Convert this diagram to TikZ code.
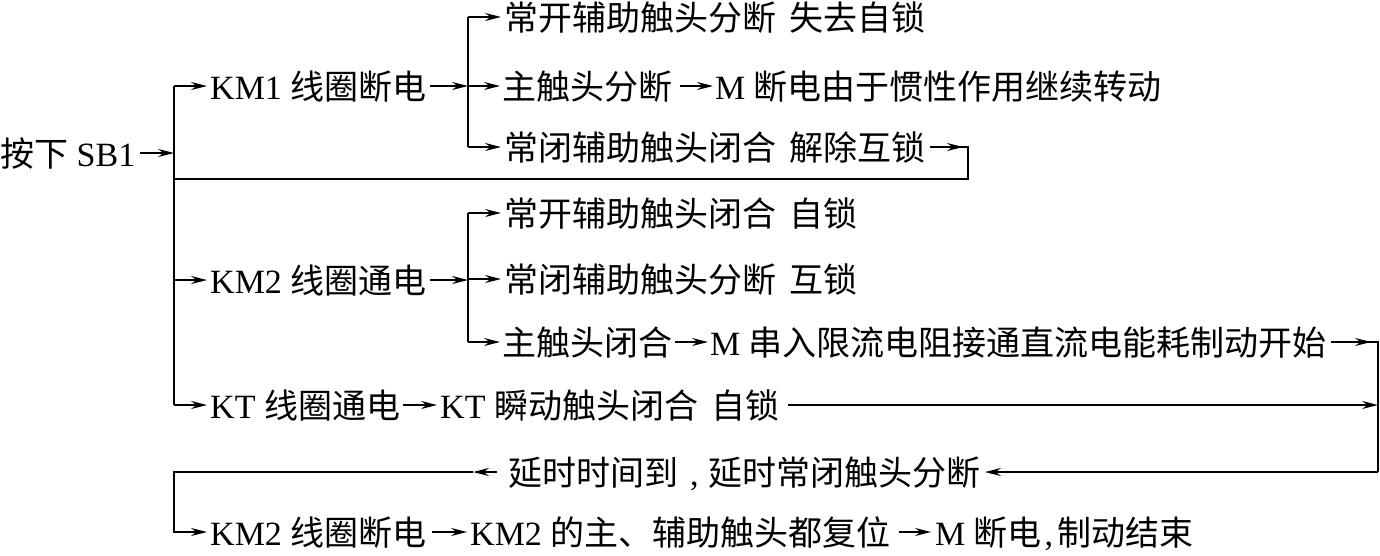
\documentclass[tikz,border=0pt]{standalone}
\usepackage{fontspec}
\setmainfont{Liberation Serif}
\newfontfamily\cjk{Noto Sans CJK SC}
\newcommand{\zh}[1]{{\cjk #1}}
\newcommand{\gap}{\hspace{0.4em}}
\usetikzlibrary{arrows.meta}
\begin{document}
\begin{tikzpicture}[x=1pt,y=-1pt,
  txt/.style={anchor=west,inner sep=0pt,font=\fontsize{34}{40}\selectfont,text height=28pt,text depth=2pt},
  ln/.style={line width=1.6pt},
  arr/.style={line width=1.6pt,-{Stealth[length=16pt,width=8pt,inset=5.5pt]}}]
\useasboundingbox (0,0) rectangle (1380,555);
\coordinate (bus) at (174,0);
\coordinate (br1) at (468,0);
\coordinate (br2) at (468,0);
\coordinate (rc1) at (968,179);
\coordinate (rc2) at (1378,472);

% nodes
\node[txt] (sb1) at (0,153) {\zh{按下} SB1};
\node[txt] (km1off) at (210,86) {KM1 \zh{线圈断电}};
\node[txt] (a1) at (504,17) {\zh{常开辅助触头分断}\gap\zh{失去自锁}};
\node[txt] (a2) at (502,86) {\zh{主触头分断}};
\node[txt] (a3) at (715,86) {M \zh{断电由于惯性作用继续转动}};
\node[txt] (a4) at (504,147) {\zh{常闭辅助触头闭合}\gap\zh{解除互锁}};
\node[txt] (km2on) at (210,280) {KM2 \zh{线圈通电}};
\node[txt] (b1) at (504,213) {\zh{常开辅助触头闭合}\gap\zh{自锁}};
\node[txt] (b2) at (504,279) {\zh{常闭辅助触头分断}\gap\zh{互锁}};
\node[txt] (b3) at (502,342) {\zh{主触头闭合}};
\node[txt] (b4) at (710,342) {M \zh{串入限流电阻接通直流电能耗制动开始}};
\node[txt] (kton) at (210,405) {KT \zh{线圈通电}};
\node[txt] (kt2) at (440,405) {KT \zh{瞬动触头闭合}\gap\zh{自锁}};
\node[txt] (d1) at (508,472) {\zh{延时时间到}\hspace{0.35em},\hspace{0.3em}\zh{延时常闭触头分断}};
\node[txt] (e1) at (210,532) {KM2 \zh{线圈断电}};
\node[txt] (e2) at (470,532) {KM2 \zh{的主、辅助触头都复位}};
\node[txt] (e3) at (935,532) {M \zh{断电}\hspace{0.08em},\hspace{0.12em}\zh{制动结束}};

% main bus
\draw[arr] ([xshift=5pt]sb1.east) -- (bus |- sb1);
\draw[ln] (bus |- km1off) -- (bus |- kton);
\draw[arr] (bus |- km1off) -- ([xshift=-3pt]km1off.west);
\draw[arr] (bus |- km2on) -- ([xshift=-3pt]km2on.west);
\draw[arr] (bus |- kton) -- ([xshift=-3pt]kton.west);

% KM1 branch
\draw[arr] ([xshift=3pt]km1off.east) -- (br1 |- km1off);
\draw[ln] (br1 |- a1) -- (br1 |- a4);
\draw[arr] (br1 |- a1) -- ([xshift=-3pt]a1.west);
\draw[arr] (br1 |- a2) -- ([xshift=-2pt]a2.west);
\draw[arr] (br1 |- a4) -- ([xshift=-3pt]a4.west);
\draw[arr] ([xshift=8pt]a2.east) -- ([xshift=-2pt]a3.west);
\draw[ln] ([xshift=4pt]a4.east) -| (rc1) -- (bus |- rc1);
\draw[arr] ([xshift=4pt]a4.east) -- ([xshift=-5pt]rc1 |- a4);

% KM2 branch
\draw[arr] ([xshift=3pt]km2on.east) -- (br2 |- km2on);
\draw[ln] (br2 |- b1) -- (br2 |- b3);
\draw[arr] (br2 |- b1) -- ([xshift=-3pt]b1.west);
\draw[arr] (br2 |- b2) -- ([xshift=-3pt]b2.west);
\draw[arr] (br2 |- b3) -- ([xshift=-2pt]b3.west);
\draw[arr] ([xshift=3pt]b3.east) -- ([xshift=-2pt]b4.west);
\draw[ln] ([xshift=4pt]b4.east) -| (rc2);
\draw[arr] ([xshift=4pt]b4.east) -- ([xshift=-7pt]rc2 |- b4);

% KT
\draw[arr] ([xshift=3pt]kton.east) -- ([xshift=-3pt]kt2.west);
\draw[arr] ([xshift=8pt]kt2.east) -- (rc2 |- kt2);

% delay
\draw[arr] (rc2) -- ([xshift=4pt]d1.east);
\draw[arr] ([xshift=-11pt]d1.west) -- ([xshift=-35pt]d1.west) coordinate (lc);
\draw[arr] (lc) -- (bus |- lc) |- ([xshift=-3pt]e1.west);
\draw[arr] ([xshift=5pt]e1.east) -- ([xshift=-3pt]e2.west);
\draw[arr] ([xshift=8pt]e2.east) -- ([xshift=-4pt]e3.west);
\end{tikzpicture}
\end{document}
